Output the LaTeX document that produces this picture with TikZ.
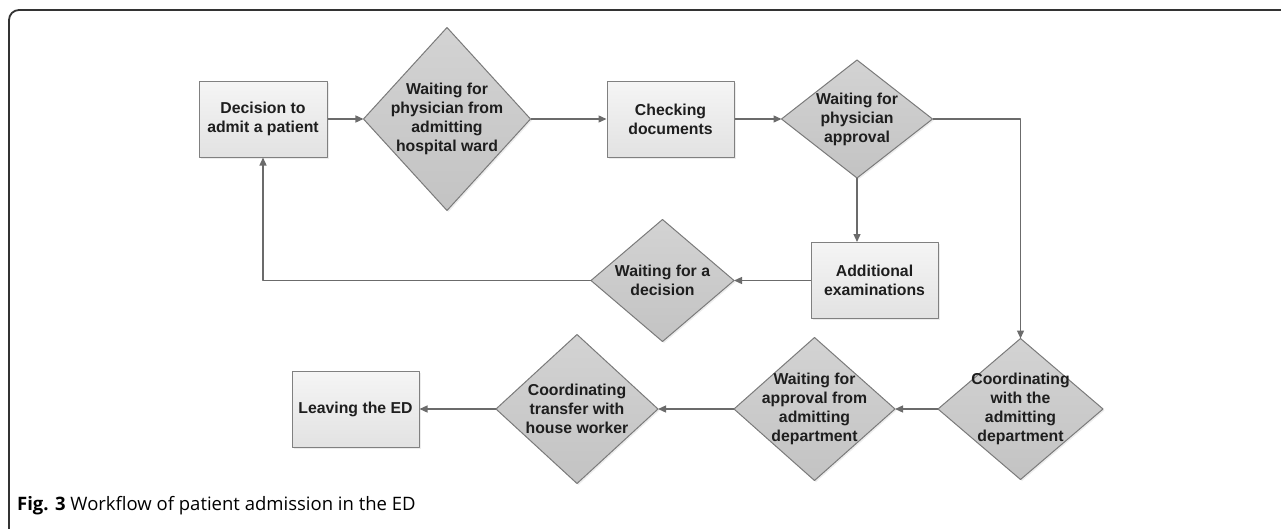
\documentclass[tikz,border=0pt]{standalone}
\usepackage{fontspec}
\setmainfont{Liberation Sans}
\newfontfamily\capfont{Open Sans}
\usetikzlibrary{arrows.meta,positioning,shapes.geometric,shadows}

\definecolor{boxtop}{HTML}{F5F5F5}
\definecolor{boxbot}{HTML}{E2E2E2}
\definecolor{boxline}{HTML}{808080}
\definecolor{diatop}{HTML}{D3D3D3}
\definecolor{diabot}{HTML}{C3C3C3}
\definecolor{dialine}{HTML}{7A7A7A}
\definecolor{arrcol}{HTML}{6B6B6B}
\definecolor{txtcol}{HTML}{1E1E1E}
\definecolor{framecol}{HTML}{333333}

\begin{document}
\begin{tikzpicture}[
        >={Triangle[length=8pt,width=7pt]}, line join=round,
        x=1pt, y=-1pt,
        font=\fontsize{15.8}{19}\selectfont\bfseries,
        procbox/.style={draw=boxline, line width=1pt, top color=boxtop, bottom color=boxbot,
            minimum width=127pt, minimum height=76pt, inner sep=0pt, align=center, text=txtcol,
            drop shadow={shadow xshift=1.5pt, shadow yshift=-1.5pt, opacity=0.15}},
        waitdia/.style={diamond, draw=dialine, line width=1pt, top color=diatop, bottom color=diabot,
            inner sep=0pt, outer sep=0pt,
            drop shadow={shadow xshift=1.5pt, shadow yshift=-1.5pt, opacity=0.15}},
        lbl/.style={align=center, inner sep=0pt, text=txtcol},
        flow/.style={->, draw=arrcol, line width=1.3pt},
        capt/.style={font=\capfont\fontsize{18.5}{22}\selectfont, inner sep=0pt, text=black}
      ]
      \useasboundingbox (0,0) rectangle (1281,528);

      % ---- helpers ----
      \newcommand{\waitnode}[6]{% name, x, y, w, h, text
        \node[waitdia, minimum width=#4pt, minimum height=#5pt] (#1) at (#2,#3) {};
        \node[lbl] (#1-t) at (#1) {#6};
      }

      % frame (only top and left edge are visible)
      \draw[framecol, line width=1.8pt, rounded corners=10pt] (9,560) -- (9,10) -- (1300,10);

      %==================== ROW 1 ====================
      \node[procbox, minimum width=128pt] (dec) at (263,119) {Decision to\\admit a patient};
      \waitnode{wph}{447}{119}{167}{183}{Waiting for\\physician from\\admitting\\hospital ward}
      \node[procbox] (chk) at (670.5,119) {Checking\\documents};
      \waitnode{wpa}{857}{119}{151}{118}{Waiting for\\physician\\approval}

      %==================== ROW 2 ====================
      \node[procbox] (add) at (874.5,280.5) {Additional\\examinations};
      \waitnode{wdc}{662.5}{280.5}{143}{122}{Waiting for a\\decision}

      %==================== ROW 3 ====================
      \waitnode{cad}{1020.5}{409}{165}{141}{Coordinating\\with the\\admitting\\department}
      \waitnode{wap}{814.5}{409}{161}{143}{Waiting for\\approval from\\admitting\\department}
      \waitnode{ctr}{577}{409}{162}{149}{Coordinating\\transfer with\\house worker}
      \node[procbox] (lev) at (355.5,409) {Leaving the ED};

      % connectors
      \draw[flow] (dec) -- (wph);
      \draw[flow] (wph) -- (chk);
      \draw[flow] (chk) -- (wpa);
      \draw[flow] (wpa.east) -| (cad.north);
      \draw[flow] (wpa.south) -- (wpa.south |- add.north);
      \draw[flow] (add) -- (wdc);
      \draw[flow] (wdc.west) -| (dec.south);
      \draw[flow] (cad) -- (wap);
      \draw[flow] (wap) -- (ctr);
      \draw[flow] (ctr) -- (lev);

      % caption
      \node[capt, anchor=base west] (cap) at (17,510) {\textbf{Fig. 3} Workflow of patient admission in the ED};

    \end{tikzpicture}
\end{document}
